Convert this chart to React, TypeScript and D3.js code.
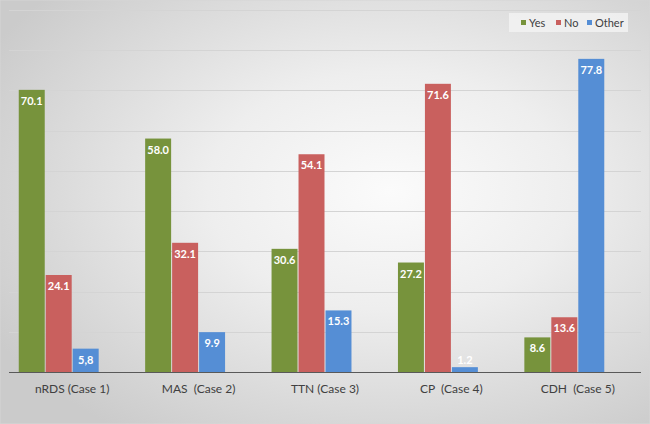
import React, { useRef, useEffect } from 'react';
import * as d3 from 'd3';

const categories = ['nRDS (Case 1)', 'MAS  (Case 2)', 'TTN (Case 3)', 'CP  (Case 4)', 'CDH  (Case 5)'];
const seriesNames = ['Yes', 'No', 'Other'];
const yesValues = [70.1, 58.0, 30.6, 27.2, 8.6];
const noValues = [24.1, 32.1, 54.1, 71.6, 13.6];
const otherValues = [5.8, 9.9, 15.3, 1.2, 77.8];
// labels as printed in the source (one uses a decimal comma)
const yesLabels = ['70.1', '58.0', '30.6', '27.2', '8.6'];
const noLabels = ['24.1', '32.1', '54.1', '71.6', '13.6'];
const otherLabels = ['5,8', '9.9', '15.3', '1.2', '77.8'];
const gridTicks = [10, 20, 30, 40, 50, 60, 70, 80, 90];
const colors = ['#77933C', '#C9605E', '#558ED5'];

const W = 650;
const H = 424;

function App() {
  const svgRef = useRef<SVGSVGElement>(null);

  useEffect(() => {
    const svg = d3.select(svgRef.current);
    svg.selectAll('*').remove();

    const defs = svg.append('defs');
    const grad = defs.append('radialGradient')
      .attr('id', 'bg')
      .attr('cx', '60%').attr('cy', '45%').attr('r', '70%');
    grad.append('stop').attr('offset', '0%').attr('stop-color', '#fbfbfb');
    grad.append('stop').attr('offset', '40%').attr('stop-color', '#eeeeee');
    grad.append('stop').attr('offset', '100%').attr('stop-color', '#cbcbcb');

    svg.append('rect')
      .attr('width', W).attr('height', H)
      .attr('fill', 'url(#bg)')
      .attr('stroke', '#d6d6d6');

    const x = d3.scaleBand().domain(categories).range([9, 641]).paddingInner(0).paddingOuter(0);
    // Excel leaves room for a 4th (empty) series slot
    const inner = d3.scaleBand().domain(['Yes', 'No', 'Other', '_']).range([0, x.bandwidth()]).paddingOuter(0.343);
    const y = d3.scaleLinear().domain([0, 80]).range([372, 50]);

    svg.append('g')
      .selectAll('line')
      .data(gridTicks)
      .join('line')
      .attr('x1', 9).attr('x2', 641)
      .attr('y1', d => Math.round(y(d)) + 0.5).attr('y2', d => Math.round(y(d)) + 0.5)
      .attr('stroke', '#d4d4d4');

    const series = [
      { name: 'Yes', values: yesValues, labels: yesLabels },
      { name: 'No', values: noValues, labels: noLabels },
      { name: 'Other', values: otherValues, labels: otherLabels },
    ];

    series.forEach((s, si) => {
      const g = svg.append('g');
      g.selectAll('rect')
        .data(s.values)
        .join('rect')
        .attr('x', (d, i) => x(categories[i])! + inner(s.name)! + 0.5)
        .attr('width', inner.bandwidth() - 1)
        .attr('y', d => y(d))
        .attr('height', d => y(0) - y(d))
        .attr('fill', colors[si]);

      g.selectAll('text')
        .data(s.values)
        .join('text')
        .attr('x', (d, i) => x(categories[i])! + inner(s.name)! + inner.bandwidth() / 2)
        .attr('y', d => (y(0) - y(d) > 18 ? y(d) + 15 : y(d) - 3))
        .attr('text-anchor', 'middle')
        .attr('fill', '#ffffff')
        .attr('font-weight', 'bold')
        .attr('font-size', 11)
        .attr('font-family', 'Lato, "Open Sans", sans-serif')
        .text((d, i) => s.labels[i]);
    });

    svg.append('line')
      .attr('x1', 9).attr('x2', 641)
      .attr('y1', 372.5).attr('y2', 372.5)
      .attr('stroke', '#595959').attr('stroke-width', 1.2);

    svg.append('g')
      .selectAll('text')
      .data(categories)
      .join('text')
      .attr('x', d => x(d)! + x.bandwidth() / 2)
      .attr('y', 393)
      .attr('text-anchor', 'middle')
      .attr('fill', '#404040')
      .attr('font-size', 12)
      .attr('font-family', 'Lato, "Open Sans", sans-serif')
      .style('white-space', 'pre')
      .text(d => d);

    // legend
    const lg = svg.append('g');
    lg.append('rect')
      .attr('x', 509).attr('y', 13).attr('width', 119).attr('height', 19)
      .attr('fill', '#f2f2f2').attr('opacity', 0.85);
    const legendX = [521, 556, 587];
    seriesNames.forEach((n, i) => {
      lg.append('rect')
        .attr('x', legendX[i]).attr('y', 20).attr('width', 5).attr('height', 5)
        .attr('fill', colors[i]);
      lg.append('text')
        .attr('x', legendX[i] + 8).attr('y', 26.5)
        .attr('fill', '#404040')
        .attr('font-size', 11)
        .attr('font-family', 'Lato, "Open Sans", sans-serif')
        .text(n);
    });
  }, []);

  return (
    <svg ref={svgRef} width={W} height={H} style={{ position: 'absolute', left: 0, top: 0 }} />
  );
}

export default App;
